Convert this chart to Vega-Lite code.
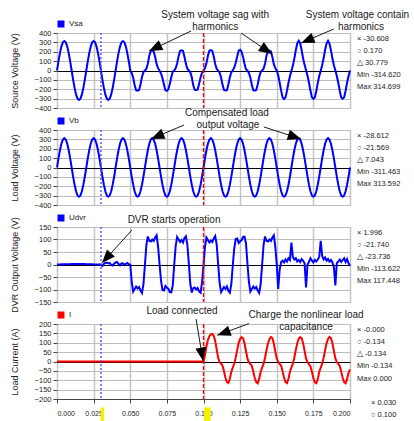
{
"$schema": "https://vega.github.io/schema/vega-lite/v6.json",
"padding": {"left": 9, "top": 9, "right": 0, "bottom": 0},
"config": {"font": "Liberation Sans", "view": {"stroke": "#a0a0a0", "strokeWidth": 1}, "axis": {"labelColor": "#222", "titleColor": "#222", "titleFontWeight": "normal", "labelFontSize": 7.5, "titleFontSize": 9}},
"datasets": {"w": [
{"t":0,"vsa":0,"vb":0,"udvr":0,"i":0},
{"t":0.001,"vsa":97,"vb":97,"udvr":0,"i":0},
{"t":0.002,"vsa":185,"vb":184,"udvr":0,"i":0},
{"t":0.003,"vsa":255,"vb":253,"udvr":1,"i":0},
{"t":0.004,"vsa":300,"vb":298,"udvr":1,"i":0},
{"t":0.005,"vsa":314,"vb":313,"udvr":1,"i":0},
{"t":0.006,"vsa":300,"vb":298,"udvr":1,"i":0},
{"t":0.007,"vsa":255,"vb":253,"udvr":1,"i":0},
{"t":0.008,"vsa":185,"vb":184,"udvr":1,"i":0},
{"t":0.009,"vsa":97,"vb":97,"udvr":1,"i":0},
{"t":0.01,"vsa":0,"vb":0,"udvr":2,"i":0},
{"t":0.011,"vsa":-97,"vb":-97,"udvr":2,"i":0},
{"t":0.012,"vsa":-185,"vb":-184,"udvr":2,"i":0},
{"t":0.013,"vsa":-255,"vb":-253,"udvr":2,"i":0},
{"t":0.014,"vsa":-300,"vb":-298,"udvr":2,"i":0},
{"t":0.015,"vsa":-314,"vb":-311,"udvr":2,"i":0},
{"t":0.016,"vsa":-300,"vb":-298,"udvr":2,"i":0},
{"t":0.017,"vsa":-255,"vb":-253,"udvr":2,"i":0},
{"t":0.018,"vsa":-185,"vb":-184,"udvr":2,"i":0},
{"t":0.019,"vsa":-97,"vb":-97,"udvr":2,"i":0},
{"t":0.02,"vsa":0,"vb":0,"udvr":1,"i":0},
{"t":0.021,"vsa":97,"vb":97,"udvr":1,"i":0},
{"t":0.022,"vsa":185,"vb":184,"udvr":1,"i":0},
{"t":0.023,"vsa":255,"vb":253,"udvr":1,"i":0},
{"t":0.024,"vsa":300,"vb":298,"udvr":1,"i":0},
{"t":0.025,"vsa":314,"vb":313,"udvr":0,"i":0},
{"t":0.026,"vsa":300,"vb":298,"udvr":0,"i":0},
{"t":0.027,"vsa":255,"vb":253,"udvr":0,"i":0},
{"t":0.028,"vsa":185,"vb":184,"udvr":0,"i":0},
{"t":0.029,"vsa":97,"vb":97,"udvr":0,"i":0},
{"t":0.03,"vsa":0,"vb":0,"udvr":0,"i":0},
{"t":0.031,"vsa":-97,"vb":-97,"udvr":-6,"i":0},
{"t":0.032,"vsa":-185,"vb":-184,"udvr":2,"i":0},
{"t":0.033,"vsa":-255,"vb":-253,"udvr":6,"i":0},
{"t":0.034,"vsa":-300,"vb":-298,"udvr":8,"i":0},
{"t":0.035,"vsa":-314,"vb":-311,"udvr":4,"i":0},
{"t":0.036,"vsa":-300,"vb":-298,"udvr":6,"i":0},
{"t":0.037,"vsa":-255,"vb":-253,"udvr":-2,"i":0},
{"t":0.038,"vsa":-185,"vb":-184,"udvr":-4,"i":0},
{"t":0.039,"vsa":-97,"vb":-97,"udvr":3,"i":0},
{"t":0.04,"vsa":0,"vb":0,"udvr":8,"i":0},
{"t":0.041,"vsa":97,"vb":97,"udvr":10,"i":0},
{"t":0.042,"vsa":185,"vb":184,"udvr":2,"i":0},
{"t":0.043,"vsa":255,"vb":253,"udvr":-3,"i":0},
{"t":0.044,"vsa":300,"vb":298,"udvr":4,"i":0},
{"t":0.045,"vsa":314,"vb":313,"udvr":5,"i":0},
{"t":0.046,"vsa":300,"vb":298,"udvr":-2,"i":0},
{"t":0.047,"vsa":255,"vb":253,"udvr":3,"i":0},
{"t":0.048,"vsa":185,"vb":184,"udvr":6,"i":0},
{"t":0.049,"vsa":97,"vb":97,"udvr":1,"i":0},
{"t":0.05,"vsa":0,"vb":0,"udvr":0,"i":0},
{"t":0.051,"vsa":-27,"vb":-97,"udvr":-70,"i":0},
{"t":0.052,"vsa":-76,"vb":-184,"udvr":-108,"i":0},
{"t":0.053,"vsa":-155,"vb":-253,"udvr":-98,"i":0},
{"t":0.054,"vsa":-210,"vb":-298,"udvr":-88,"i":0},
{"t":0.055,"vsa":-215,"vb":-311,"udvr":-96,"i":0},
{"t":0.056,"vsa":-208,"vb":-298,"udvr":-90,"i":0},
{"t":0.057,"vsa":-149,"vb":-253,"udvr":-104,"i":0},
{"t":0.058,"vsa":-70,"vb":-184,"udvr":-114,"i":0},
{"t":0.059,"vsa":-17,"vb":-97,"udvr":-80,"i":0},
{"t":0.06,"vsa":0,"vb":0,"udvr":-3,"i":0},
{"t":0.061,"vsa":19,"vb":97,"udvr":78,"i":0},
{"t":0.062,"vsa":72,"vb":184,"udvr":112,"i":0},
{"t":0.063,"vsa":158,"vb":253,"udvr":95,"i":0},
{"t":0.064,"vsa":206,"vb":298,"udvr":92,"i":0},
{"t":0.065,"vsa":213,"vb":313,"udvr":100,"i":0},
{"t":0.066,"vsa":204,"vb":298,"udvr":94,"i":0},
{"t":0.067,"vsa":145,"vb":253,"udvr":108,"i":0},
{"t":0.068,"vsa":67,"vb":184,"udvr":117,"i":0},
{"t":0.069,"vsa":25,"vb":97,"udvr":72,"i":0},
{"t":0.07,"vsa":0,"vb":0,"udvr":2,"i":0},
{"t":0.071,"vsa":-32,"vb":-97,"udvr":-65,"i":0},
{"t":0.072,"vsa":-82,"vb":-184,"udvr":-102,"i":0},
{"t":0.073,"vsa":-149,"vb":-253,"udvr":-104,"i":0},
{"t":0.074,"vsa":-212,"vb":-298,"udvr":-86,"i":0},
{"t":0.075,"vsa":-218,"vb":-311,"udvr":-93,"i":0},
{"t":0.076,"vsa":-201,"vb":-298,"udvr":-97,"i":0},
{"t":0.077,"vsa":-143,"vb":-253,"udvr":-110,"i":0},
{"t":0.078,"vsa":-73,"vb":-184,"udvr":-111,"i":0},
{"t":0.079,"vsa":-13,"vb":-97,"udvr":-84,"i":0},
{"t":0.08,"vsa":0,"vb":0,"udvr":-2,"i":0},
{"t":0.081,"vsa":23,"vb":97,"udvr":74,"i":0},
{"t":0.082,"vsa":74,"vb":184,"udvr":110,"i":0},
{"t":0.083,"vsa":153,"vb":253,"udvr":100,"i":0},
{"t":0.084,"vsa":208,"vb":298,"udvr":90,"i":0},
{"t":0.085,"vsa":215,"vb":313,"udvr":98,"i":0},
{"t":0.086,"vsa":210,"vb":298,"udvr":88,"i":0},
{"t":0.087,"vsa":147,"vb":253,"udvr":106,"i":0},
{"t":0.088,"vsa":71,"vb":184,"udvr":113,"i":0},
{"t":0.089,"vsa":19,"vb":97,"udvr":78,"i":0},
{"t":0.09,"vsa":0,"vb":0,"udvr":3,"i":0},
{"t":0.091,"vsa":-19,"vb":-97,"udvr":-78,"i":0},
{"t":0.092,"vsa":-72,"vb":-184,"udvr":-112,"i":0},
{"t":0.093,"vsa":-158,"vb":-253,"udvr":-95,"i":0},
{"t":0.094,"vsa":-206,"vb":-298,"udvr":-92,"i":0},
{"t":0.095,"vsa":-211,"vb":-311,"udvr":-100,"i":0},
{"t":0.096,"vsa":-204,"vb":-298,"udvr":-94,"i":0},
{"t":0.097,"vsa":-145,"vb":-253,"udvr":-108,"i":0},
{"t":0.098,"vsa":-71,"vb":-184,"udvr":-113,"i":0},
{"t":0.099,"vsa":-25,"vb":-97,"udvr":-72,"i":0},
{"t":0.1,"vsa":0,"vb":0,"udvr":-2,"i":0},
{"t":0.101,"vsa":27,"vb":97,"udvr":70,"i":35},
{"t":0.102,"vsa":76,"vb":184,"udvr":108,"i":80},
{"t":0.103,"vsa":155,"vb":253,"udvr":98,"i":115},
{"t":0.104,"vsa":210,"vb":298,"udvr":88,"i":135},
{"t":0.105,"vsa":217,"vb":313,"udvr":96,"i":145},
{"t":0.106,"vsa":208,"vb":298,"udvr":90,"i":147},
{"t":0.107,"vsa":149,"vb":253,"udvr":104,"i":138},
{"t":0.108,"vsa":70,"vb":184,"udvr":114,"i":110},
{"t":0.109,"vsa":17,"vb":97,"udvr":80,"i":65},
{"t":0.11,"vsa":0,"vb":0,"udvr":2,"i":20},
{"t":0.111,"vsa":-23,"vb":-97,"udvr":-74,"i":-3},
{"t":0.112,"vsa":-74,"vb":-184,"udvr":-110,"i":-12},
{"t":0.113,"vsa":-153,"vb":-253,"udvr":-100,"i":-22},
{"t":0.114,"vsa":-208,"vb":-298,"udvr":-90,"i":-52},
{"t":0.115,"vsa":-213,"vb":-311,"udvr":-98,"i":-88},
{"t":0.116,"vsa":-210,"vb":-298,"udvr":-88,"i":-110},
{"t":0.117,"vsa":-147,"vb":-253,"udvr":-106,"i":-115},
{"t":0.118,"vsa":-71,"vb":-184,"udvr":-113,"i":-92},
{"t":0.119,"vsa":-19,"vb":-97,"udvr":-78,"i":-55},
{"t":0.12,"vsa":0,"vb":0,"udvr":-2,"i":-32},
{"t":0.121,"vsa":32,"vb":97,"udvr":65,"i":-12},
{"t":0.122,"vsa":82,"vb":184,"udvr":102,"i":22},
{"t":0.123,"vsa":149,"vb":253,"udvr":104,"i":62},
{"t":0.124,"vsa":212,"vb":298,"udvr":86,"i":98},
{"t":0.125,"vsa":220,"vb":313,"udvr":93,"i":120},
{"t":0.126,"vsa":201,"vb":298,"udvr":97,"i":130},
{"t":0.127,"vsa":143,"vb":253,"udvr":110,"i":124},
{"t":0.128,"vsa":73,"vb":184,"udvr":111,"i":97},
{"t":0.129,"vsa":13,"vb":97,"udvr":84,"i":56},
{"t":0.13,"vsa":0,"vb":0,"udvr":3,"i":15},
{"t":0.131,"vsa":-27,"vb":-97,"udvr":-70,"i":-4},
{"t":0.132,"vsa":-76,"vb":-184,"udvr":-108,"i":-14},
{"t":0.133,"vsa":-155,"vb":-253,"udvr":-98,"i":-24},
{"t":0.134,"vsa":-210,"vb":-298,"udvr":-88,"i":-54},
{"t":0.135,"vsa":-215,"vb":-311,"udvr":-96,"i":-88},
{"t":0.136,"vsa":-208,"vb":-298,"udvr":-90,"i":-110},
{"t":0.137,"vsa":-149,"vb":-253,"udvr":-104,"i":-116},
{"t":0.138,"vsa":-70,"vb":-184,"udvr":-114,"i":-93},
{"t":0.139,"vsa":-17,"vb":-97,"udvr":-80,"i":-56},
{"t":0.14,"vsa":0,"vb":0,"udvr":-2,"i":-33},
{"t":0.141,"vsa":19,"vb":97,"udvr":78,"i":-13},
{"t":0.142,"vsa":72,"vb":184,"udvr":112,"i":20},
{"t":0.143,"vsa":158,"vb":253,"udvr":95,"i":60},
{"t":0.144,"vsa":206,"vb":298,"udvr":92,"i":96},
{"t":0.145,"vsa":213,"vb":313,"udvr":100,"i":119},
{"t":0.146,"vsa":204,"vb":298,"udvr":94,"i":131},
{"t":0.147,"vsa":145,"vb":253,"udvr":108,"i":125},
{"t":0.148,"vsa":67,"vb":184,"udvr":117,"i":96},
{"t":0.149,"vsa":25,"vb":97,"udvr":72,"i":55},
{"t":0.15,"vsa":0,"vb":0,"udvr":0,"i":16},
{"t":0.151,"vsa":-50,"vb":-97,"udvr":-98,"i":-3},
{"t":0.152,"vsa":-131,"vb":-184,"udvr":-20,"i":-13},
{"t":0.153,"vsa":-216,"vb":-253,"udvr":10,"i":-23},
{"t":0.154,"vsa":-287,"vb":-298,"udvr":15,"i":-53},
{"t":0.155,"vsa":-305,"vb":-311,"udvr":8,"i":-87},
{"t":0.156,"vsa":-287,"vb":-298,"udvr":20,"i":-109},
{"t":0.157,"vsa":-216,"vb":-253,"udvr":12,"i":-115},
{"t":0.158,"vsa":-131,"vb":-184,"udvr":25,"i":-92},
{"t":0.159,"vsa":-62,"vb":-97,"udvr":18,"i":-55},
{"t":0.16,"vsa":-5,"vb":0,"udvr":88,"i":-31},
{"t":0.161,"vsa":52,"vb":97,"udvr":30,"i":-12},
{"t":0.162,"vsa":128,"vb":184,"udvr":20,"i":21},
{"t":0.163,"vsa":216,"vb":253,"udvr":25,"i":61},
{"t":0.164,"vsa":290,"vb":298,"udvr":12,"i":97},
{"t":0.165,"vsa":318,"vb":313,"udvr":18,"i":121},
{"t":0.166,"vsa":290,"vb":298,"udvr":10,"i":130},
{"t":0.167,"vsa":216,"vb":253,"udvr":22,"i":124},
{"t":0.168,"vsa":128,"vb":184,"udvr":15,"i":98},
{"t":0.169,"vsa":60,"vb":97,"udvr":5,"i":57},
{"t":0.17,"vsa":3,"vb":0,"udvr":-92,"i":15},
{"t":0.171,"vsa":-55,"vb":-97,"udvr":0,"i":-4},
{"t":0.172,"vsa":-131,"vb":-184,"udvr":10,"i":-14},
{"t":0.173,"vsa":-214,"vb":-253,"udvr":25,"i":-25},
{"t":0.174,"vsa":-285,"vb":-298,"udvr":15,"i":-55},
{"t":0.175,"vsa":-302,"vb":-311,"udvr":8,"i":-89},
{"t":0.176,"vsa":-287,"vb":-298,"udvr":18,"i":-111},
{"t":0.177,"vsa":-218,"vb":-253,"udvr":12,"i":-116},
{"t":0.178,"vsa":-135,"vb":-184,"udvr":20,"i":-94},
{"t":0.179,"vsa":-58,"vb":-97,"udvr":30,"i":-56},
{"t":0.18,"vsa":-4,"vb":0,"udvr":95,"i":-32},
{"t":0.181,"vsa":56,"vb":97,"udvr":35,"i":-13},
{"t":0.182,"vsa":133,"vb":184,"udvr":20,"i":20},
{"t":0.183,"vsa":218,"vb":253,"udvr":28,"i":60},
{"t":0.184,"vsa":289,"vb":298,"udvr":15,"i":97},
{"t":0.185,"vsa":316,"vb":313,"udvr":22,"i":120},
{"t":0.186,"vsa":287,"vb":298,"udvr":12,"i":131},
{"t":0.187,"vsa":214,"vb":253,"udvr":18,"i":125},
{"t":0.188,"vsa":130,"vb":184,"udvr":8,"i":97},
{"t":0.189,"vsa":57,"vb":97,"udvr":-10,"i":56},
{"t":0.19,"vsa":2,"vb":0,"udvr":-84,"i":16},
{"t":0.191,"vsa":-58,"vb":-97,"udvr":5,"i":-3},
{"t":0.192,"vsa":-131,"vb":-184,"udvr":12,"i":-13},
{"t":0.193,"vsa":-216,"vb":-253,"udvr":20,"i":-24},
{"t":0.194,"vsa":-287,"vb":-298,"udvr":10,"i":-54},
{"t":0.195,"vsa":-300,"vb":-311,"udvr":18,"i":-88},
{"t":0.196,"vsa":-285,"vb":-298,"udvr":25,"i":-110},
{"t":0.197,"vsa":-216,"vb":-253,"udvr":10,"i":-116},
{"t":0.198,"vsa":-131,"vb":-184,"udvr":22,"i":-93},
{"t":0.199,"vsa":-58,"vb":-97,"udvr":5,"i":-60},
{"t":0.2,"vsa":0,"vb":0,"udvr":-5,"i":-42}
]},
"columns": 2,
"spacing": {"row": 22, "column": 7},
"bounds": "flush",
"resolve": {"scale": {"color": "independent"}, "legend": {"color": "independent"}},
"concat": [
{"width": 293, "height": 75, "resolve": {"axis": {"x": "independent", "y": "independent"}}, "layer": [
 {"data": {"name": "w"}, "mark": {"type": "line", "strokeWidth": 2},
  "encoding": {
   "x": {"field": "t", "type": "quantitative", "scale": {"domain": [0, 0.2], "nice": false}, "axis": {"values": [0,0.025,0.05,0.075,0.1,0.125,0.15,0.175,0.2], "labels": false, "ticks": false, "domain": false, "title": null, "grid": true, "gridColor": "#c4c4c4", "gridWidth": 1.5}},
   "y": {"field": "vsa", "type": "quantitative", "scale": {"domain": [-400, 400], "nice": false}, "axis": {"title": "Source Voltage (V)", "values": [-400,-300,-200,-100,0,100,200,300,400], "grid": true, "gridColor": {"condition": {"test": "datum.value === 0", "value": "#000000"}, "value": "#bdbdbd"}, "domain": false, "tickSize": 4, "tickColor": "#444", "labelPadding": 2, "titlePadding": 15}},
   "color": {"datum": "Vsa", "type": "nominal", "scale": {"range": ["#0000ff"]}, "legend": {"orient": "top", "title": null, "offset": 3, "symbolType": "square", "symbolSize": 30, "symbolFillColor": "#0000ff", "labelFontSize": 8, "labelColor": "#222", "padding": 0}}
  }},
 {"data": {"values": [{"t": 0.03}]}, "mark": {"type": "rule", "color": "#5a5aff", "strokeDash": [2, 2], "strokeWidth": 1.5}, "encoding": {"x": {"field": "t", "type": "quantitative", "scale": {"domain": [0, 0.2], "nice": false}, "axis": null}}},
 {"data": {"values": [{"t": 0.1}]}, "mark": {"type": "rule", "color": "#ff0000", "strokeDash": [4, 2], "strokeWidth": 1.3}, "encoding": {"x": {"field": "t", "type": "quantitative", "scale": {"domain": [0, 0.2], "nice": false}, "axis": null}}},
 {"data": {"values": [{"t":0.108,"v":592,"s":"System voltage sag with"},{"t":0.108,"v":464,"s":"harmonics"},{"t":0.2051,"v":592,"s":"System voltage contain"},{"t":0.2075,"v":464,"s":"harmonics"}]},
  "mark": {"type": "text", "fontSize": 10, "color": "#1a1a1a", "align": "center", "baseline": "middle"},
  "encoding": {"x": {"field": "t", "type": "quantitative", "scale": {"domain": [0, 0.2], "nice": false}, "axis": null}, "y": {"field": "v", "type": "quantitative", "scale": {"domain": [-400, 400], "nice": false}, "axis": null}, "text": {"field": "s"}}},
 {"data": {"values": [{"t":0.0915,"v":421,"t2":0.0628,"v2":208}, {"t":0.1256,"v":400,"t2":0.1468,"v2":176}, {"t":0.189,"v":443,"t2":0.1666,"v2":293}]},
  "mark": {"type": "rule", "color": "#1a1a1a", "strokeWidth": 1}, "encoding": {"x": {"field": "t", "type": "quantitative", "scale": {"domain": [0, 0.2], "nice": false}, "axis": null}, "y": {"field": "v", "type": "quantitative", "scale": {"domain": [-400, 400], "nice": false}, "axis": null}, "x2": {"field": "t2"}, "y2": {"field": "v2"}}},
 {"data": {"values": [{"t2":0.0628,"v2":208,"a":244},{"t2":0.1468,"v2":176,"a":124},{"t2":0.1666,"v2":293,"a":247}]},
  "mark": {"type": "point", "shape": "M0,0L-0.75,1.9L0.75,1.9Z", "filled": true, "color": "#000000", "size": 200, "opacity": 1}, "encoding": {"x": {"field": "t2", "type": "quantitative", "scale": {"domain": [0, 0.2], "nice": false}, "axis": null}, "y": {"field": "v2", "type": "quantitative", "scale": {"domain": [-400, 400], "nice": false}, "axis": null}, "angle": {"field": "a", "type": "quantitative", "scale": null}}}
]},
{"width": 50, "height": 60, "view": {"stroke": null}, "data": {"values": [{"s":"× -30.608"},{"s":"○ 0.170"},{"s":"△ 30.779"},{"s":"Min -314.620"},{"s":"Max 314.699"}]},
 "mark": {"type": "text", "align": "left", "baseline": "middle", "fontSize": 7.5, "color": "#222"},
 "encoding": {"y": {"field": "s", "type": "ordinal", "sort": null, "scale": {"type": "point", "padding": 0.45}, "axis": null}, "x": {"value": 0}, "text": {"field": "s"}}},
{"width": 293, "height": 75, "resolve": {"axis": {"x": "independent", "y": "independent"}}, "layer": [
 {"data": {"name": "w"}, "mark": {"type": "line", "strokeWidth": 2},
  "encoding": {
   "x": {"field": "t", "type": "quantitative", "scale": {"domain": [0, 0.2], "nice": false}, "axis": {"values": [0,0.025,0.05,0.075,0.1,0.125,0.15,0.175,0.2], "labels": false, "ticks": false, "domain": false, "title": null, "grid": true, "gridColor": "#c4c4c4", "gridWidth": 1.5}},
   "y": {"field": "vb", "type": "quantitative", "scale": {"domain": [-400, 400], "nice": false}, "axis": {"title": "Load Voltage (V)", "values": [-400,-300,-200,-100,0,100,200,300,400], "grid": true, "gridColor": {"condition": {"test": "datum.value === 0", "value": "#000000"}, "value": "#bdbdbd"}, "domain": false, "tickSize": 4, "tickColor": "#444", "labelPadding": 2, "titlePadding": 15}},
   "color": {"datum": "Vb", "type": "nominal", "scale": {"range": ["#0000ff"]}, "legend": {"orient": "top", "title": null, "offset": 3, "symbolType": "square", "symbolSize": 30, "symbolFillColor": "#0000ff", "labelFontSize": 8, "labelColor": "#222", "padding": 0}}
  }},
 {"data": {"values": [{"t": 0.03}]}, "mark": {"type": "rule", "color": "#5a5aff", "strokeDash": [2, 2], "strokeWidth": 1.5}, "encoding": {"x": {"field": "t", "type": "quantitative", "scale": {"domain": [0, 0.2], "nice": false}, "axis": null}}},
 {"data": {"values": [{"t": 0.1}]}, "mark": {"type": "rule", "color": "#ff0000", "strokeDash": [4, 2], "strokeWidth": 1.3}, "encoding": {"x": {"field": "t", "type": "quantitative", "scale": {"domain": [0, 0.2], "nice": false}, "axis": null}}},
 {"data": {"values": [{"t":0.116,"v":581,"s":"Compensated load"},{"t":0.1167,"v":453,"s":"output voltage"}]},
  "mark": {"type": "text", "fontSize": 10, "color": "#1a1a1a", "align": "center", "baseline": "middle"},
  "encoding": {"x": {"field": "t", "type": "quantitative", "scale": {"domain": [0, 0.2], "nice": false}, "axis": null}, "y": {"field": "v", "type": "quantitative", "scale": {"domain": [-400, 400], "nice": false}, "axis": null}, "text": {"field": "s"}}},
 {"data": {"values": [{"t":0.0867,"v":453,"t2":0.0642,"v2":304},{"t":0.1413,"v":432,"t2":0.1666,"v2":304}]},
  "mark": {"type": "rule", "color": "#1a1a1a", "strokeWidth": 1}, "encoding": {"x": {"field": "t", "type": "quantitative", "scale": {"domain": [0, 0.2], "nice": false}, "axis": null}, "y": {"field": "v", "type": "quantitative", "scale": {"domain": [-400, 400], "nice": false}, "axis": null}, "x2": {"field": "t2"}, "y2": {"field": "v2"}}},
 {"data": {"values": [{"t2":0.0642,"v2":304,"a":247},{"t2":0.1666,"v2":304,"a":108}]},
  "mark": {"type": "point", "shape": "M0,0L-0.75,1.9L0.75,1.9Z", "filled": true, "color": "#000000", "size": 200, "opacity": 1}, "encoding": {"x": {"field": "t2", "type": "quantitative", "scale": {"domain": [0, 0.2], "nice": false}, "axis": null}, "y": {"field": "v2", "type": "quantitative", "scale": {"domain": [-400, 400], "nice": false}, "axis": null}, "angle": {"field": "a", "type": "quantitative", "scale": null}}}
]},
{"width": 50, "height": 60, "view": {"stroke": null}, "data": {"values": [{"s":"× -28.612"},{"s":"○ -21.569"},{"s":"△ 7.043"},{"s":"Min -311.463"},{"s":"Max 313.592"}]},
 "mark": {"type": "text", "align": "left", "baseline": "middle", "fontSize": 7.5, "color": "#222"},
 "encoding": {"y": {"field": "s", "type": "ordinal", "sort": null, "scale": {"type": "point", "padding": 0.45}, "axis": null}, "x": {"value": 0}, "text": {"field": "s"}}},
{"width": 293, "height": 75, "resolve": {"axis": {"x": "independent", "y": "independent"}}, "layer": [
 {"data": {"name": "w"}, "mark": {"type": "line", "strokeWidth": 2},
  "encoding": {
   "x": {"field": "t", "type": "quantitative", "scale": {"domain": [0, 0.2], "nice": false}, "axis": {"values": [0,0.025,0.05,0.075,0.1,0.125,0.15,0.175,0.2], "labels": false, "ticks": false, "domain": false, "title": null, "grid": true, "gridColor": "#c4c4c4", "gridWidth": 1.5}},
   "y": {"field": "udvr", "type": "quantitative", "scale": {"domain": [-150, 150], "nice": false}, "axis": {"title": "DVR Output Voltage (V)", "values": [-150,-100,-50,0,50,100,150], "grid": true, "gridColor": {"condition": {"test": "datum.value === 0", "value": "#000000"}, "value": "#bdbdbd"}, "domain": false, "tickSize": 4, "tickColor": "#444", "labelPadding": 2, "titlePadding": 15}},
   "color": {"datum": "Udvr", "type": "nominal", "scale": {"range": ["#0000ff"]}, "legend": {"orient": "top", "title": null, "offset": 3, "symbolType": "square", "symbolSize": 30, "symbolFillColor": "#0000ff", "labelFontSize": 8, "labelColor": "#222", "padding": 0}}
  }},
 {"data": {"values": [{"t": 0.03}]}, "mark": {"type": "rule", "color": "#5a5aff", "strokeDash": [2, 2], "strokeWidth": 1.5}, "encoding": {"x": {"field": "t", "type": "quantitative", "scale": {"domain": [0, 0.2], "nice": false}, "axis": null}}},
 {"data": {"values": [{"t": 0.1}]}, "mark": {"type": "rule", "color": "#ff0000", "strokeDash": [4, 2], "strokeWidth": 1.3}, "encoding": {"x": {"field": "t", "type": "quantitative", "scale": {"domain": [0, 0.2], "nice": false}, "axis": null}}},
 {"data": {"values": [{"t":0.0799,"v":178,"s":"DVR starts operation"}]},
  "mark": {"type": "text", "fontSize": 10, "color": "#1a1a1a", "align": "center", "baseline": "middle"},
  "encoding": {"x": {"field": "t", "type": "quantitative", "scale": {"domain": [0, 0.2], "nice": false}, "axis": null}, "y": {"field": "v", "type": "quantitative", "scale": {"domain": [-150, 150], "nice": false}, "axis": null}, "text": {"field": "s"}}},
 {"data": {"values": [{"t":0.0512,"v":138,"t2":0.0307,"v2":6}]},
  "mark": {"type": "rule", "color": "#1a1a1a", "strokeWidth": 1}, "encoding": {"x": {"field": "t", "type": "quantitative", "scale": {"domain": [0, 0.2], "nice": false}, "axis": null}, "y": {"field": "v", "type": "quantitative", "scale": {"domain": [-150, 150], "nice": false}, "axis": null}, "x2": {"field": "t2"}, "y2": {"field": "v2"}}},
 {"data": {"values": [{"t2":0.0307,"v2":6,"a":222}]},
  "mark": {"type": "point", "shape": "M0,0L-0.75,1.9L0.75,1.9Z", "filled": true, "color": "#000000", "size": 200, "opacity": 1}, "encoding": {"x": {"field": "t2", "type": "quantitative", "scale": {"domain": [0, 0.2], "nice": false}, "axis": null}, "y": {"field": "v2", "type": "quantitative", "scale": {"domain": [-150, 150], "nice": false}, "axis": null}, "angle": {"field": "a", "type": "quantitative", "scale": null}}}
]},
{"width": 50, "height": 60, "view": {"stroke": null}, "data": {"values": [{"s":"× 1.996"},{"s":"○ -21.740"},{"s":"△ -23.736"},{"s":"Min -113.622"},{"s":"Max 117.448"}]},
 "mark": {"type": "text", "align": "left", "baseline": "middle", "fontSize": 7.5, "color": "#222"},
 "encoding": {"y": {"field": "s", "type": "ordinal", "sort": null, "scale": {"type": "point", "padding": 0.45}, "axis": null}, "x": {"value": 0}, "text": {"field": "s"}}},
{"width": 293, "height": 75, "resolve": {"axis": {"x": "independent", "y": "independent"}}, "layer": [
 {"data": {"name": "w"}, "mark": {"type": "line", "strokeWidth": 2},
  "encoding": {
   "x": {"field": "t", "type": "quantitative", "scale": {"domain": [0, 0.2], "nice": false}, "axis": {"values": [0,0.025,0.05,0.075,0.1,0.125,0.15,0.175,0.2], "format": ".3f", "title": null, "grid": true, "gridColor": "#c4c4c4", "gridWidth": 1.5, "domain": true, "domainColor": "#444", "ticks": true, "tickSize": 4, "tickColor": "#444", "labelFontSize": 7, "labelPadding": 6}},
   "y": {"field": "i", "type": "quantitative", "scale": {"domain": [-200, 200], "nice": false}, "axis": {"title": "Load Current (A)", "values": [-200,-150,-100,-50,0,50,100,150,200], "grid": true, "gridColor": {"condition": {"test": "datum.value === 0", "value": "#000000"}, "value": "#bdbdbd"}, "domain": false, "tickSize": 4, "tickColor": "#444", "labelPadding": 2, "titlePadding": 15}},
   "color": {"datum": "I", "type": "nominal", "scale": {"range": ["#ff0000"]}, "legend": {"orient": "top", "title": null, "offset": 3, "symbolType": "square", "symbolSize": 30, "symbolFillColor": "#ff0000", "labelFontSize": 8, "labelColor": "#222", "padding": 0}}
  }},
 {"data": {"values": [{"t": 0.03}]}, "mark": {"type": "rule", "color": "#5a5aff", "strokeDash": [2, 2], "strokeWidth": 1.5}, "encoding": {"x": {"field": "t", "type": "quantitative", "scale": {"domain": [0, 0.2], "nice": false}, "axis": null}}},
 {"data": {"values": [{"t": 0.1}]}, "mark": {"type": "rule", "color": "#ff0000", "strokeDash": [4, 2], "strokeWidth": 1.3}, "encoding": {"x": {"field": "t", "type": "quantitative", "scale": {"domain": [0, 0.2], "nice": false}, "axis": null}}},
 {"data": {"values": [{"t": 0.0298, "t2": 0.0322}, {"t": 0.1003, "t2": 0.1049}]}, "mark": {"type": "rect", "color": "#f2f200"}, "encoding": {"x": {"field": "t", "type": "quantitative", "scale": {"domain": [0, 0.2], "nice": false}, "axis": null}, "x2": {"field": "t2"}, "y": {"datum": -245, "type": "quantitative", "scale": {"domain": [-200, 200], "nice": false}, "axis": null}, "y2": {"datum": -340}}},
 {"data": {"values": [{"t":0.0853,"v":269,"s":"Load connected"},{"t":0.17,"v":248,"s":"Charge the nonlinear load"},{"t":0.17,"v":184,"s":"capacitance"}]},
  "mark": {"type": "text", "fontSize": 10, "color": "#1a1a1a", "align": "center", "baseline": "middle"},
  "encoding": {"x": {"field": "t", "type": "quantitative", "scale": {"domain": [0, 0.2], "nice": false}, "axis": null}, "y": {"field": "v", "type": "quantitative", "scale": {"domain": [-200, 200], "nice": false}, "axis": null}, "text": {"field": "s"}}},
 {"data": {"values": [{"t":0.0949,"v":227,"t2":0.0997,"v2":3},{"t":0.131,"v":202,"t2":0.1094,"v2":140}]},
  "mark": {"type": "rule", "color": "#1a1a1a", "strokeWidth": 1}, "encoding": {"x": {"field": "t", "type": "quantitative", "scale": {"domain": [0, 0.2], "nice": false}, "axis": null}, "y": {"field": "v", "type": "quantitative", "scale": {"domain": [-200, 200], "nice": false}, "axis": null}, "x2": {"field": "t2"}, "y2": {"field": "v2"}}},
 {"data": {"values": [{"t2":0.0997,"v2":3,"a":170},{"t2":0.1094,"v2":140,"a":250}]},
  "mark": {"type": "point", "shape": "M0,0L-0.75,1.9L0.75,1.9Z", "filled": true, "color": "#000000", "size": 200, "opacity": 1}, "encoding": {"x": {"field": "t2", "type": "quantitative", "scale": {"domain": [0, 0.2], "nice": false}, "axis": null}, "y": {"field": "v2", "type": "quantitative", "scale": {"domain": [-200, 200], "nice": false}, "axis": null}, "angle": {"field": "a", "type": "quantitative", "scale": null}}}
]},
{"width": 50, "height": 97, "view": {"stroke": null}, "layer": [
 {"data": {"values": [{"s":"× -0.000"},{"s":"○ -0.134"},{"s":"△ -0.134"},{"s":"Min -0.134"},{"s":"Max 0.000"}]},
  "mark": {"type": "text", "align": "left", "baseline": "middle", "fontSize": 7.5, "color": "#222"},
  "encoding": {"y": {"field": "s", "type": "ordinal", "scale": {"type": "point", "padding": 0.45, "domain": ["× -0.000","○ -0.134","△ -0.134","Min -0.134","Max 0.000","gap1","× 0.030","○ 0.100"]}, "axis": null}, "x": {"value": 0}, "text": {"field": "s"}}},
 {"data": {"values": [{"s":"× 0.030"},{"s":"○ 0.100"}]},
  "mark": {"type": "text", "align": "left", "baseline": "middle", "fontSize": 7.5, "color": "#222", "dx": 14},
  "encoding": {"y": {"field": "s", "type": "ordinal", "scale": {"type": "point", "padding": 0.45, "domain": ["× -0.000","○ -0.134","△ -0.134","Min -0.134","Max 0.000","gap1","× 0.030","○ 0.100"]}, "axis": null}, "x": {"value": 0}, "text": {"field": "s"}}}
]}
]
}
